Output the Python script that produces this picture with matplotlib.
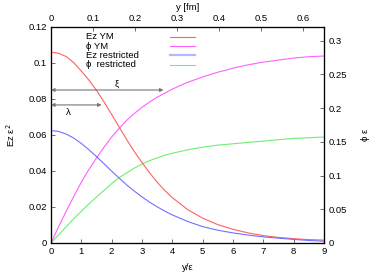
import matplotlib
matplotlib.use("Agg")
import matplotlib.pyplot as plt
from matplotlib.lines import Line2D

plt.rcParams['font.family'] = ['Liberation Sans', 'DejaVu Sans']

x = [0, 0.25, 0.5, 0.75, 1, 1.25, 1.5, 1.75, 2, 2.25, 2.5, 2.75, 3, 3.25, 3.5, 3.75, 4,
     4.5, 5, 5.5, 6, 6.5, 7, 7.5, 8, 8.5, 9]
ez_ym = [0.1060, 0.1054, 0.1036, 0.1002, 0.0955, 0.0905, 0.0848, 0.0783, 0.0714,
         0.0643, 0.0573, 0.0507, 0.0447, 0.0390, 0.0338, 0.0292, 0.0252,
         0.0186, 0.0138, 0.0102, 0.0076, 0.0056, 0.0041, 0.0031, 0.0024, 0.0019, 0.0016]
phi_ym = [0, 0.024, 0.047, 0.069, 0.090, 0.109, 0.126, 0.142, 0.157,
          0.170, 0.182, 0.192, 0.201, 0.209, 0.216, 0.222, 0.228,
          0.238, 0.246, 0.253, 0.259, 0.264, 0.268, 0.271, 0.274, 0.276, 0.277]
ez_res = [0.0625, 0.0620, 0.0605, 0.0583, 0.0553, 0.0518, 0.0480, 0.0440, 0.0399,
          0.0360, 0.0322, 0.0288, 0.0256, 0.0227, 0.0201, 0.0177, 0.0156,
          0.0120, 0.0091, 0.0071, 0.0056, 0.0044, 0.0034, 0.0027, 0.0020, 0.0014, 0.0010]
phi_res = [0, 0.012, 0.024, 0.036, 0.047, 0.058, 0.068, 0.078, 0.088,
           0.097, 0.104, 0.111, 0.117, 0.122, 0.126, 0.130, 0.133,
           0.138, 0.142, 0.145, 0.147, 0.149, 0.151, 0.153, 0.155, 0.156, 0.157]

labels = ["Ez YM", "ϕ YM", "Ez restricted", "ϕ  restricted"]
colors = ['#ff6060', '#ff60ff', '#7070ff', '#70ee70']

xi_len = 3.71
lam_len = 1.67
xi_y = 0.085
lam_y = 0.0767

left_ticks = [0, 0.02, 0.04, 0.06, 0.08, 0.1, 0.12]
right_ticks = [0, 0.05, 0.1, 0.15, 0.2, 0.25, 0.3]
bottom_ticks = list(range(0, 10))
top_ticks = [0, 0.1, 0.2, 0.3, 0.4, 0.5, 0.6]
fm_max = 0.65

fs = 6.8
fig = plt.figure(figsize=(3.89, 2.73), dpi=100)
ax = fig.add_axes([51/389, 1-243/273, 273/389, 216/273])
ax2 = ax.twinx()
ax3 = ax.twiny()

ax.plot(x, ez_ym, color=colors[0], lw=0.8)
ax2.plot(x, phi_ym, color=colors[1], lw=0.8)
ax.plot(x, ez_res, color=colors[2], lw=0.8)
ax2.plot(x, phi_res, color=colors[3], lw=0.8)

ax.set_xlim(0, 9)
ax.set_ylim(0, 0.12)
ax2.set_ylim(0, 0.32)
ax3.set_xlim(0, fm_max)

ax.set_xticks(bottom_ticks)
ax.set_yticks(left_ticks)
ax.set_yticklabels(["0", "0.02", "0.04", "0.06", "0.08", "0.1", "0.12"])
ax2.set_yticks(right_ticks)
ax2.set_yticklabels(["0", "0.05", "0.1", "0.15", "0.2", "0.25", "0.3"])
ax3.set_xticks(top_ticks)
ax3.set_xticklabels(["0", "0.1", "0.2", "0.3", "0.4", "0.5", "0.6"])

for a in (ax, ax2, ax3):
    a.tick_params(direction='in', length=3, width=0.6, labelsize=fs, color='#555555', pad=3)
    for s in a.spines.values():
        s.set_linewidth(0.8)

ax.set_xlabel("y/ε", fontsize=fs, labelpad=5)
ax.set_ylabel("Ez ε$^2$", fontsize=fs, va='center')
ax.yaxis.set_label_coords(-0.148, 0.5)
ax2.set_ylabel("ϕ ε", fontsize=fs, rotation=90, va='center')
ax2.yaxis.set_label_coords(1.153, 0.5)
ax3.set_xlabel("y [fm]", fontsize=fs, labelpad=3)

arrow_kw = dict(arrowstyle='<|-|>', color='#777777', lw=0.8, mutation_scale=5,
                shrinkA=0, shrinkB=0)
ax.annotate("", xy=(xi_len, xi_y), xytext=(0, xi_y), arrowprops=arrow_kw)
ax.annotate("", xy=(lam_len, lam_y), xytext=(0, lam_y), arrowprops=arrow_kw)
ax.text(2.17, xi_y + 0.0005, "ξ", fontsize=fs, ha='center', va='bottom')
ax.text(0.57, lam_y - 0.0015, "λ", fontsize=fs, ha='center', va='top')

# legend (gnuplot-style: text left, sample line right)
row_y = [0.954, 0.912, 0.870, 0.826]
for lab, col, yy in zip(labels, colors, row_y):
    ax.text(0.128, yy, lab, transform=ax.transAxes, fontsize=fs,
            ha='left', va='center')
    ax.add_line(Line2D([0.436, 0.527], [yy, yy], transform=ax.transAxes,
                       color=col, lw=0.8 if col != colors[2] else 1.6,
                       alpha=1.0 if col != colors[2] else 0.5))

ax.set_zorder(ax2.get_zorder() + 1)
ax.patch.set_visible(False)

fig.savefig("out.png", dpi=100)
